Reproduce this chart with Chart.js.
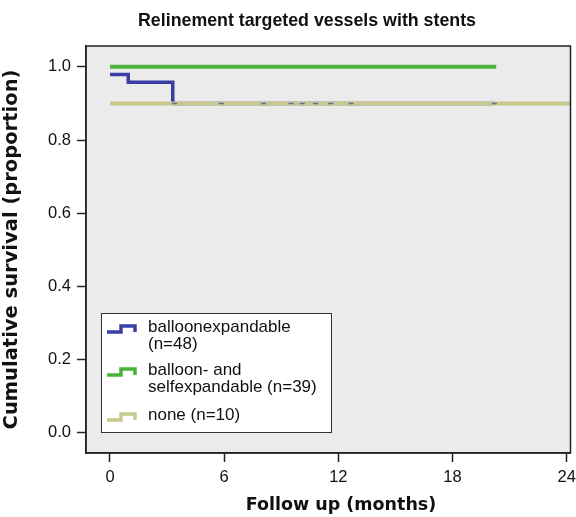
<!DOCTYPE html>
<html>
<head>
<meta charset="utf-8">
<script src="https://cdn.jsdelivr.net/npm/chart.js@4/dist/chart.umd.min.js"></script>
<style>
  html, body { margin: 0; padding: 0; background: #fff; }
  #wrap { width: 576px; height: 517px; }
</style>
</head>
<body>
<div id="wrap"><canvas id="km"></canvas></div>
<script>
// Kaplan-Meier steps (months, proportion)
var balloonTimes = [0, 0.96, 3.3, 20.2];
var balloonSurv = [0.979, 0.958, 0.9, 0.9];
var bothTimes = [0, 20.3];
var bothSurv = [1.0, 1.0];
var noneTimes = [0, 24.5];
var noneSurv = [0.9, 0.9];
// censor marks on the balloonexpandable curve
var censorTimes = [3.4, 5.85, 8.07, 9.52, 10.1, 10.8, 11.6, 12.67, 20.2];
var censorSurv = [0.9, 0.9, 0.9, 0.9, 0.9, 0.9, 0.9, 0.9, 0.9];

var xTicks = [0, 6, 12, 18, 24];
var yTicks = [0, 0.2, 0.4, 0.6, 0.8, 1.0];

var legendItems = [
    { lines: ['balloonexpandable', '(n=48)'], color: '#3a3fa6' },
    { lines: ['balloon- and', 'selfexpandable (n=39)'], color: '#4cb23c' },
    { lines: ['none (n=10)'], color: '#c9c88c' }
];

var sans = '"Liberation Sans", Arial, sans-serif';
var wide = '"DejaVu Sans", Verdana, sans-serif';

function toPoints(xs, ys) {
    return xs.map(function (x, i) { return { x: x, y: ys[i] }; });
}

var decor = {
    id: 'decor',
    beforeDraw: function (chart) {
        var c = chart.ctx, a = chart.chartArea;
        c.save();
        c.fillStyle = '#ebebeb';
        c.fillRect(a.left, a.top, a.right - a.left, a.bottom - a.top);
        c.fillStyle = '#111';
        c.textAlign = 'center';
        c.textBaseline = 'middle';
        // title
        c.font = 'bold 17.8px ' + sans;
        c.fillText('Relinement targeted vessels with stents', 307, 21);
        // x axis title (sits a bit right of the plot centre in the original)
        c.font = 'bold 17.5px ' + wide;
        c.fillText('Follow up (months)', 341, 505);
        c.restore();
    },
    afterDraw: function (chart) {
        var c = chart.ctx, a = chart.chartArea;
        c.save();
        c.strokeStyle = '#222';
        c.lineWidth = 1.5;
        c.strokeRect(a.left, a.top, a.right - a.left, a.bottom - a.top);

        // legend box
        var bx = 101, by = 313, bw = 230, bh = 119;
        c.fillStyle = '#fff';
        c.fillRect(bx, by, bw, bh);
        c.strokeStyle = '#333';
        c.lineWidth = 1;
        c.strokeRect(bx + 0.5, by + 0.5, bw, bh);

        c.font = '17px ' + sans;
        c.textAlign = 'left';
        c.textBaseline = 'middle';
        var rows = [327, 370, 415];
        legendItems.forEach(function (it, i) {
            var y = rows[i];
            c.strokeStyle = it.color;
            c.lineWidth = 3.5;
            c.beginPath();
            c.moveTo(107, y + 5);
            c.lineTo(121, y + 5);
            c.lineTo(121, y - 1);
            c.lineTo(135, y - 1);
            c.lineTo(135, y + 5);
            c.stroke();
            c.fillStyle = '#111';
            it.lines.forEach(function (t, j) {
                c.fillText(t, 148, y + j * 17);
            });
        });
        c.restore();
    }
};

var ctx = document.getElementById('km').getContext('2d');
var chart = new Chart(ctx, {
    type: 'line',
    data: {
        datasets: [{
            label: 'balloonexpandable (n=48)',
            data: toPoints(balloonTimes, balloonSurv),
            borderColor: '#3a3fa6',
            borderWidth: 3.5,
            stepped: true,
            pointRadius: 0,
            order: 3
        }, {
            label: 'none (n=10)',
            data: toPoints(noneTimes, noneSurv),
            borderColor: '#c9c88c',
            borderWidth: 4,
            stepped: true,
            pointRadius: 0,
            order: 2
        }, {
            label: 'balloon- and selfexpandable (n=39)',
            data: toPoints(bothTimes, bothSurv),
            borderColor: '#4cb23c',
            borderWidth: 4,
            stepped: true,
            pointRadius: 0,
            order: 1
        }, {
            label: 'censored',
            data: toPoints(censorTimes, censorSurv),
            showLine: false,
            pointStyle: 'line',
            pointRadius: 2.5,
            borderWidth: 1.5,
            borderColor: '#6a6c9a',
            order: 0
        }]
    },
    options: {
        responsive: true,
        maintainAspectRatio: false,
        animation: false,
        layout: { padding: { top: 46, right: 4, left: 0, bottom: 0 } },
        plugins: {
            legend: { display: false },
            tooltip: { enabled: false }
        },
        scales: {
            x: {
                type: 'linear',
                min: -1.26,
                max: 24.2,
                afterBuildTicks: function (s) { s.ticks = xTicks.map(function (v) { return { value: v }; }); },
                afterFit: function (s) { s.height = 64; s.paddingLeft = 0; s.paddingRight = 0; },
                grid: { drawOnChartArea: false, tickLength: 9, tickColor: '#222', tickWidth: 1.5 },
                border: { color: '#222', width: 1.5 },
                ticks: {
                    color: '#111',
                    padding: 6,
                    maxRotation: 0,
                    font: { family: sans, size: 16.5 },
                    callback: function (v) { return String(v); }
                }
            },
            y: {
                min: -0.055,
                max: 1.057,
                afterBuildTicks: function (s) { s.ticks = yTicks.map(function (v) { return { value: v }; }); },
                afterFit: function (s) { s.width = 86; s.paddingTop = 0; s.paddingBottom = 0; },
                grid: { drawOnChartArea: false, tickLength: 9, tickColor: '#222', tickWidth: 1.5 },
                border: { color: '#222', width: 1.5 },
                ticks: {
                    color: '#111',
                    padding: 6,
                    font: { family: sans, size: 16.5 },
                    callback: function (v) { return Number(v).toFixed(1); }
                },
                title: {
                    display: true,
                    text: 'Cumulative survival (proportion)',
                    color: '#111',
                    padding: { top: 0, bottom: 0 },
                    font: { family: wide, size: 19.5, weight: 'bold' }
                }
            }
        }
    },
    plugins: [decor]
});
</script>
</body>
</html>
